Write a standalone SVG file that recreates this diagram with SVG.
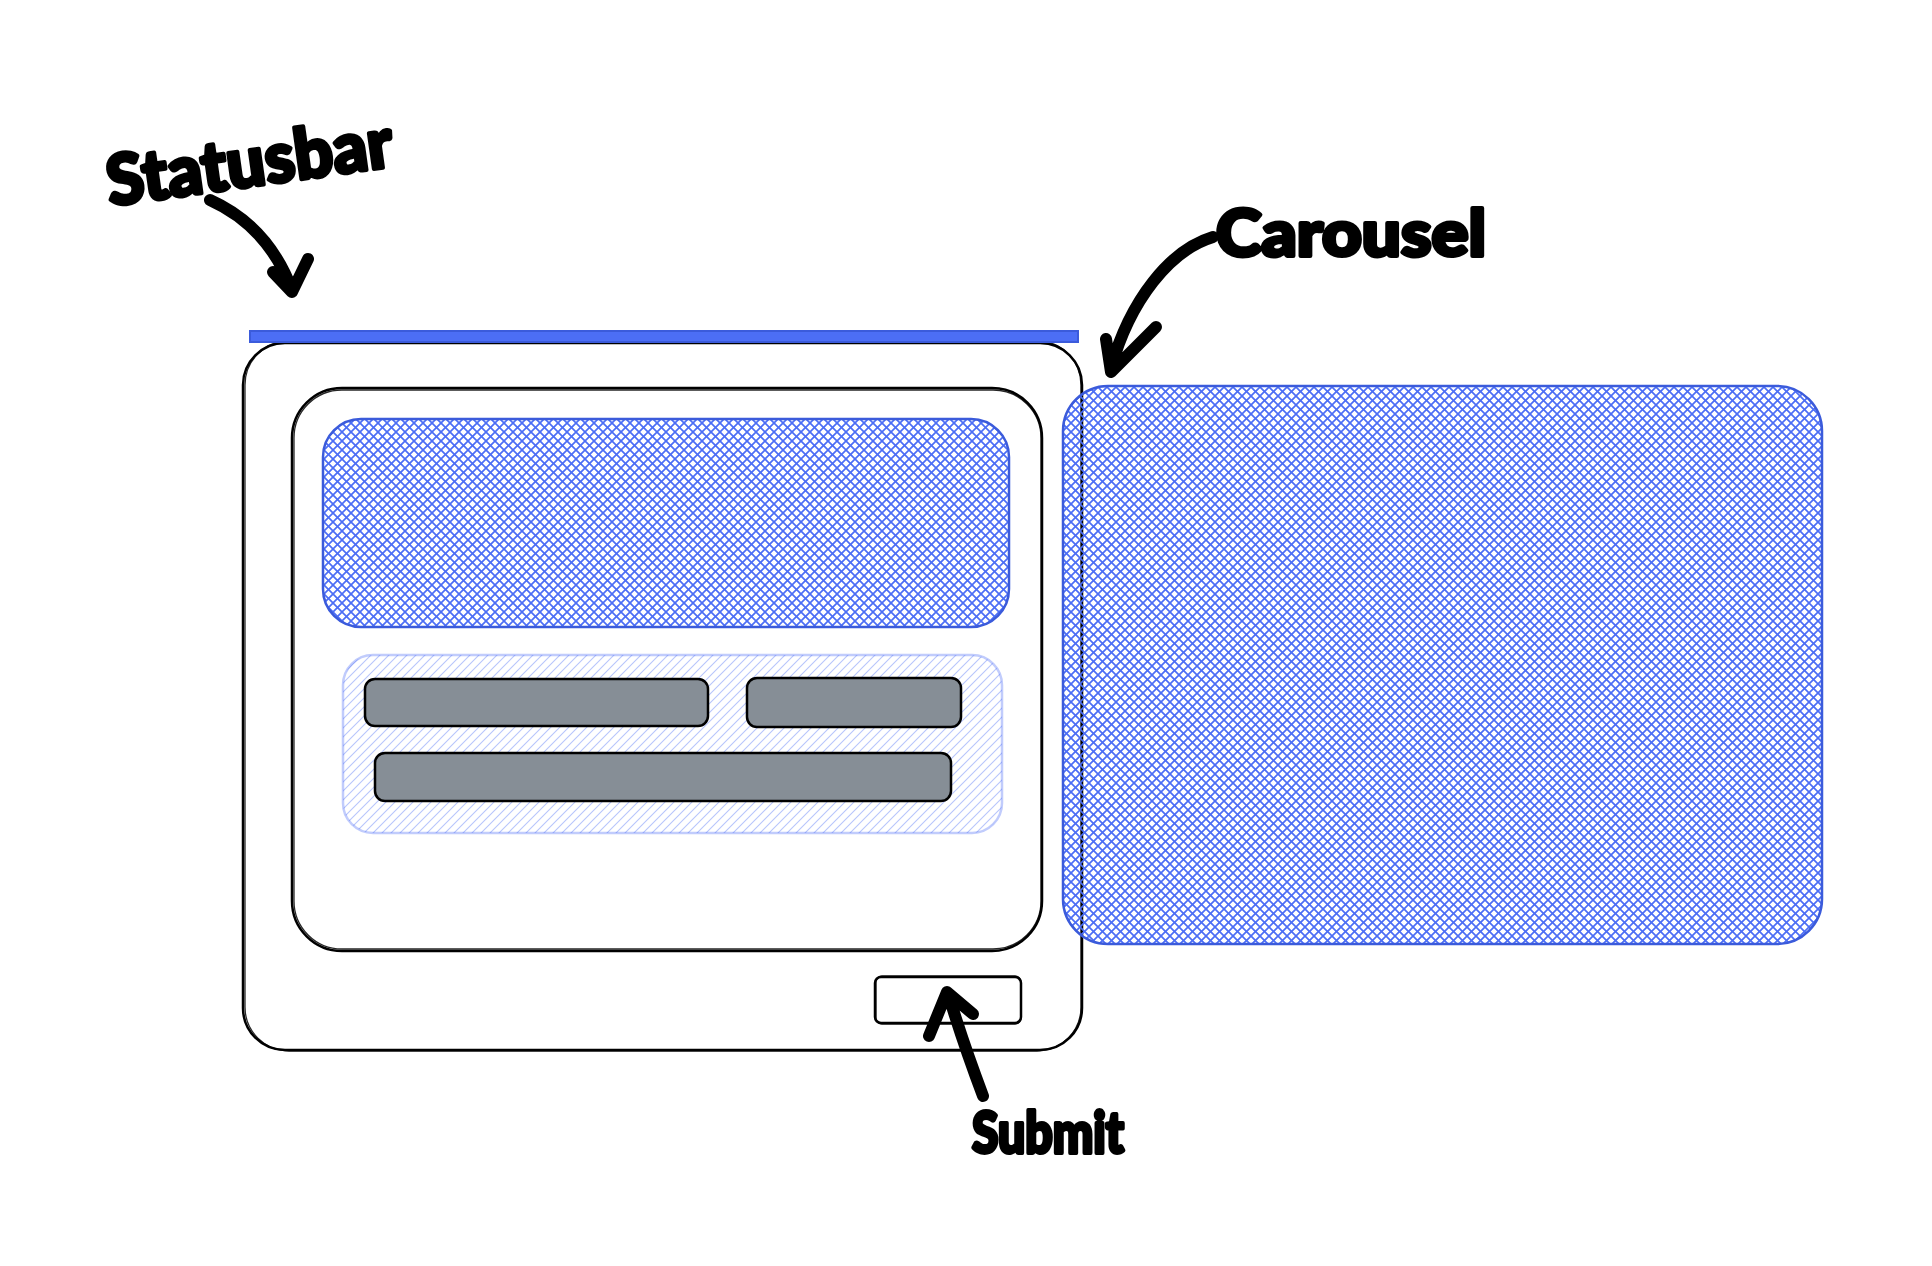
<svg xmlns="http://www.w3.org/2000/svg" width="1932" height="1266" viewBox="0 0 1932 1266">
<defs>
<pattern id="xhatch" patternUnits="userSpaceOnUse" width="9" height="9">
<path d="M-2,2 L2,-2 M0,9 L9,0 M7,11 L11,7" stroke="#4c6ef5" stroke-width="1.7" fill="none"/>
<path d="M-2,7 L2,11 M0,0 L9,9 M7,-2 L11,2" stroke="#4c6ef5" stroke-width="1.7" fill="none"/>
</pattern>
<pattern id="lhatch" patternUnits="userSpaceOnUse" width="9" height="9">
<path d="M-2,2 L2,-2 M0,9 L9,0 M7,11 L11,7" stroke="#4c6ef5" stroke-opacity="0.4" stroke-width="1.1" fill="none"/>
</pattern>
<style>
.frame{fill:none;stroke:#000;stroke-width:2.5}
.frame2{fill:none;stroke:#000;stroke-width:1.3;opacity:0.85}
.blue{fill:url(#xhatch);stroke:#3b5bdb;stroke-width:2.5}
.light{fill:url(#lhatch);stroke:#4c6ef5;stroke-opacity:0.35;stroke-width:2.5}
.bar{fill:#868e96;stroke:#000;stroke-width:2.5}
.ink{fill:none;stroke:#000;stroke-width:12;stroke-linecap:round;stroke-linejoin:round}
.hand{font-family:"Lato","Liberation Sans",sans-serif;font-weight:900;fill:#000;stroke:#000;stroke-width:4;stroke-linejoin:round}
</style>
</defs>
<rect width="1932" height="1266" fill="#ffffff"/>

<g id="outer-frame">
<rect class="frame" x="243" y="343" width="839" height="707" rx="42"/>
<rect class="frame2" x="245" y="341" width="836" height="710" rx="44"/>
</g>

<g id="status-bar">
<rect x="250" y="331" width="828" height="11" fill="#4c6ef5" stroke="#3b5bdb" stroke-width="2"/>
</g>

<g id="inner-frame">
<rect class="frame" x="292" y="388" width="750" height="563" rx="50"/>
<rect class="frame2" x="294" y="390" width="747" height="559" rx="48"/>
</g>

<g id="hero">
<rect class="blue" x="323" y="419" width="686" height="208" rx="38"/>
</g>

<g id="form-group">
<rect class="light" x="343" y="655" width="659" height="178" rx="30"/>
</g>

<g id="bar1">
<rect class="bar" x="365" y="679" width="343" height="47" rx="10"/>
</g>
<g id="bar2">
<rect class="bar" x="747" y="678" width="214" height="49" rx="10"/>
</g>
<g id="bar3">
<rect class="bar" x="375" y="753" width="576" height="48" rx="10"/>
</g>

<g id="submit-button">
<rect class="frame" x="875" y="977" width="146" height="46" rx="6"/>
<rect class="frame2" x="876" y="976" width="145" height="48" rx="6"/>
</g>

<g id="carousel">
<rect class="blue" x="1063" y="386" width="759" height="558" rx="45"/>
</g>

<g id="connectors">
<path class="ink" d="M210,200 Q268,226 292,290 M273,272 L292,292 L308,259"/>
<path class="ink" d="M1213,237 C1170,250 1130,300 1111,368 M1106,339 L1111,372 L1156,327"/>
<path class="ink" stroke-width="11" d="M983,1096 Q962,1040 948,993 M929,1036 L947,992 L973,1014"/>
</g>

<g id="labels">
<text class="hand" x="110" y="206" font-size="70" textLength="288" lengthAdjust="spacingAndGlyphs" transform="rotate(-8 110 206)">Statusbar</text>
<text class="hand" x="1216" y="256" font-size="64" textLength="270" lengthAdjust="spacingAndGlyphs">Carousel</text>
<text class="hand" x="972" y="1153" font-size="58" textLength="152" lengthAdjust="spacingAndGlyphs">Submit</text>
</g>
</svg>
